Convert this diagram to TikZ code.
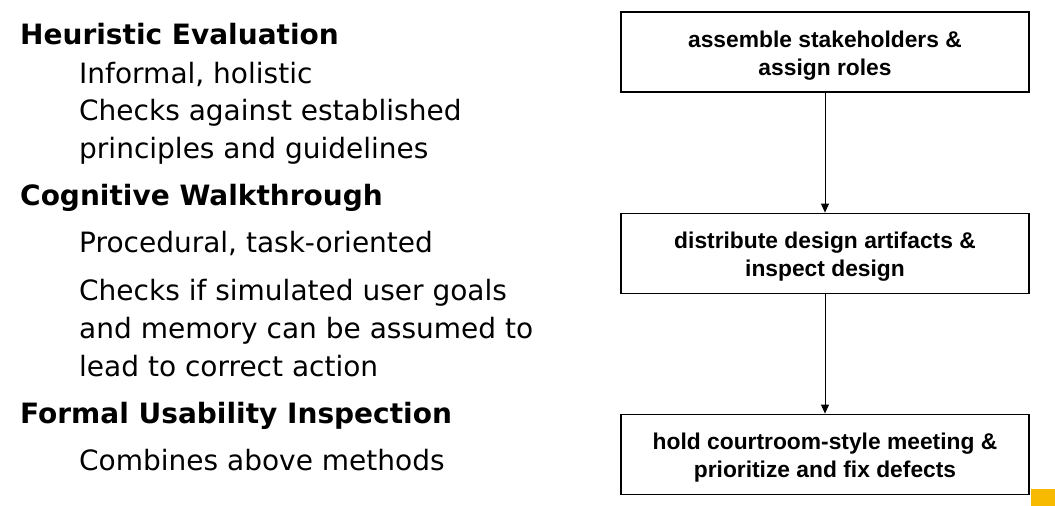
\documentclass[tikz,border=0pt]{standalone}
\usepackage{fontspec}
\setmainfont{DejaVu Sans}
\newfontfamily\boxfont{Liberation Sans}
\usetikzlibrary{arrows.meta}
\definecolor{accentgold}{HTML}{F7BA00}
\newcommand{\topstrut}{\rule{0pt}{23pt}}
\begin{document}
\begin{tikzpicture}[x=1pt,y=-1pt,
  heading/.style={anchor=base west,inner sep=0pt,font=\fontsize{28}{33}\selectfont\bfseries},
  item/.style={anchor=base west,inner sep=0pt,font=\fontsize{28}{33}\selectfont},
  stepbox/.style={draw=black,line width=1.8pt,minimum width=408pt,minimum height=80pt,
    align=center,font=\boxfont\fontsize{22.8}{28}\selectfont\bfseries,inner sep=0pt},
  flow/.style={-{Triangle[length=9pt,width=8pt]},line width=0.9pt}]
\useasboundingbox (0,0) rectangle (1055,506);
\fill[white] (0,0) rectangle (1055,506);

% method list
\node[heading] (h1) at (20,44) {Heuristic Evaluation};
\node[item] (h1a) at (79,83) {Informal, holistic};
\node[item] (h1b) at (79,120) {Checks against established};
\node[item] (h1c) at (79,158) {principles and guidelines};
\node[heading] (h2) at (20,205) {Cognitive Walkthrough};
\node[item] (h2a) at (79,252) {Procedural, task-oriented};
\node[item] (h2b) at (79,300) {Checks if simulated user goals};
\node[item] (h2c) at (79,338) {and memory can be assumed to};
\node[item] (h2d) at (79,376) {lead to correct action};
\node[heading] (h3) at (20,423) {Formal Usability Inspection};
\node[item] (h3a) at (79,470) {Combines above methods};

% inspection process
\node[stepbox] (s1) at (825,52) {\topstrut assemble stakeholders \&\\assign roles};
\node[stepbox] (s2) at (825,253.5) {\topstrut distribute design artifacts \&\\inspect design};
\node[stepbox] (s3) at (825,454.5) {\topstrut hold courtroom-style meeting \&\\prioritize and fix defects};
\draw[flow] (s1) -- (s2);
\draw[flow] (s2) -- (s3);

% corner accent
\fill[accentgold] (1031,489) rectangle (1055,506);
\end{tikzpicture}
\end{document}
